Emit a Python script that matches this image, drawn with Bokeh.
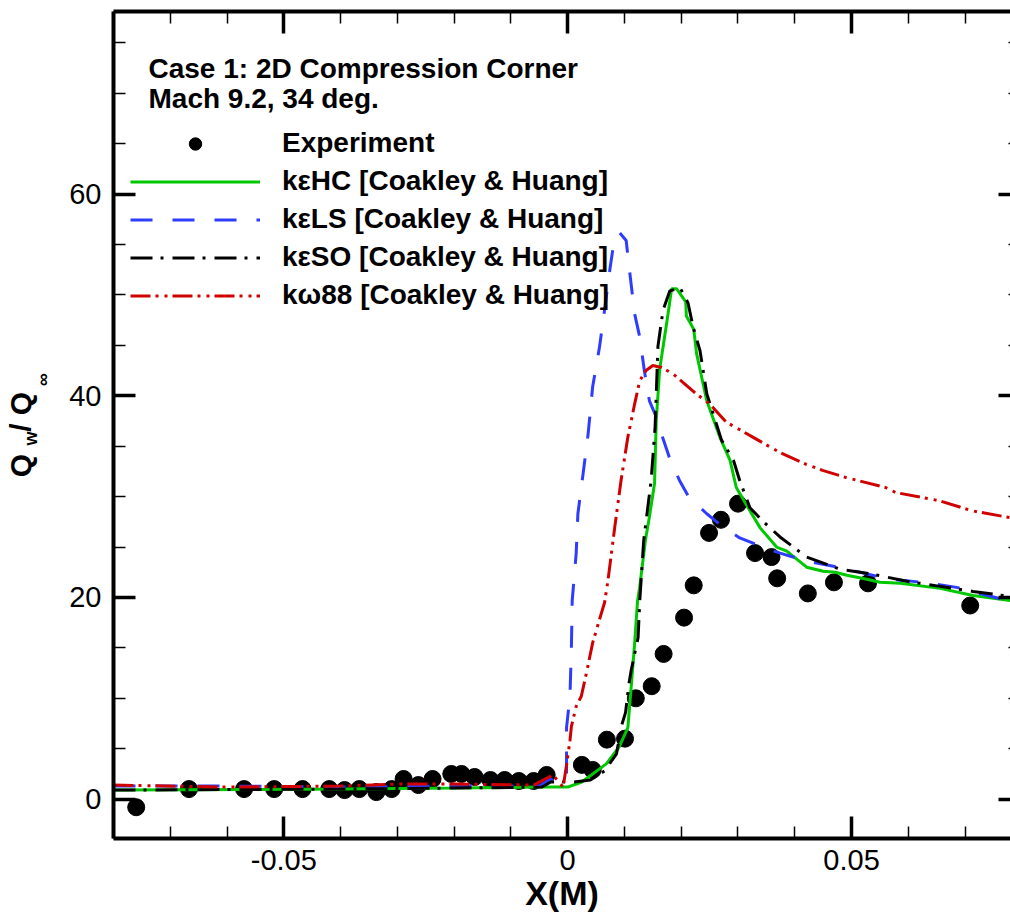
import math
from bokeh.plotting import figure
from bokeh.layouts import row
from bokeh.models import (Range1d, LinearAxis, SingleIntervalTicker, CustomJSTickFormatter,
                          Legend, LegendItem, Label)
from bokeh.core.properties import value
from bokeh.embed import file_html
from bokeh.resources import INLINE

# ---------------- data ----------------
exp_x = [-0.0760, -0.0667, -0.0570, -0.0517, -0.0467, -0.0420, -0.0393, -0.0367, -0.0337, -0.0310,
         -0.0289, -0.0263, -0.0238, -0.0205, -0.0187, -0.0164, -0.0136, -0.0111, -0.0086, -0.0060,
         -0.0037, 0.0025, 0.0044, 0.0069, 0.0101, 0.0120, 0.0148, 0.0169, 0.0205, 0.0222,
         0.0249, 0.0270, 0.0300, 0.0330, 0.0359, 0.0369, 0.0423, 0.0469, 0.0529, 0.0709]
exp_y = [-0.8, 1.0, 1.0, 1.0, 1.0, 1.0, 0.9, 1.0, 0.7, 1.0,
         2.0, 1.4, 2.0, 2.5, 2.5, 2.2, 1.9, 1.9, 1.8, 1.8,
         2.4, 3.4, 2.9, 5.9, 6.0, 10.0, 11.2, 14.4, 18.0, 21.2,
         26.4, 27.7, 29.3, 24.4, 24.0, 21.9, 20.4, 21.5, 21.4, 19.2]

hc_x = [-0.08, -0.04, -0.02, -0.005, 0.0, 0.0025, 0.0068, 0.0091, 0.0106, 0.0112, 0.0118, 0.0123,
        0.0127, 0.0137, 0.0144, 0.0153, 0.0156, 0.0162, 0.0176, 0.0180, 0.0183, 0.0192, 0.0208,
        0.0209, 0.0222, 0.0227, 0.0245, 0.0268, 0.0286, 0.0297, 0.0321, 0.0339, 0.0368, 0.0386,
        0.0421, 0.0450, 0.0471, 0.0492, 0.0527, 0.0550, 0.0586, 0.0656, 0.0714, 0.0780]
hc_y = [0.9, 1.0, 1.1, 1.2, 1.2, 1.7, 3.5, 5.2, 7.1, 11.2, 15.5, 19.6,
        21.1, 25.7, 28.0, 31.3, 37.5, 42.6, 47.8, 49.4, 50.6, 50.6, 49.3,
        47.9, 46.6, 44.2, 39.5, 35.9, 33.6, 30.9, 28.6, 26.9, 25.0, 24.6,
        23.0, 22.6, 22.5, 22.2, 21.8, 21.5, 21.4, 20.9, 20.2, 19.7]

ls_x = [-0.08, -0.06, -0.04, -0.02, -0.005, -0.003, -0.0015, -0.0002, -0.0002, 0.0004, 0.00065,
        0.0008, 0.0015, 0.0018, 0.0027, 0.0036, 0.0044, 0.0056, 0.0065, 0.0074, 0.0080, 0.0091,
        0.0103, 0.0109, 0.0118, 0.0127, 0.0135, 0.0144, 0.0156, 0.0167, 0.0179, 0.0197, 0.0214,
        0.0245, 0.0271, 0.0303, 0.0339, 0.0374, 0.0421, 0.0468, 0.0515, 0.0568, 0.0626, 0.0685, 0.0780]
ls_y = [1.3, 1.3, 1.2, 1.3, 1.3, 2.0, 1.5, 2.5, 7.1, 10.2, 14.8,
        19.7, 24.4, 28.3, 32.2, 36.2, 40.9, 44.8, 48.5, 52.4, 54.7, 56.2,
        55.4, 52.4, 48.1, 45.8, 42.5, 39.5, 37.9, 35.9, 33.9, 31.6, 29.9,
        28.3, 27.1, 25.9, 25.1, 24.4, 23.6, 23.1, 22.5, 21.8, 21.5, 21.0, 19.6]

so_x = [-0.08, -0.04, -0.02, -0.0045, -0.003, 0.001, 0.004, 0.0065, 0.0086, 0.0095, 0.0102, 0.0108,
        0.0112, 0.0124, 0.0127, 0.0134, 0.0147, 0.0154, 0.0159, 0.0168, 0.0180, 0.0198, 0.0212,
        0.0221, 0.0233, 0.0245, 0.0271, 0.0292, 0.0303, 0.0321, 0.0345, 0.0374, 0.0421, 0.0480,
        0.0538, 0.0598, 0.0656, 0.0714, 0.0780]
so_y = [0.9, 1.0, 1.1, 1.2, 1.7, 1.7, 1.9, 2.8, 4.5, 7.3, 8.6, 11.5,
        12.8, 16.0, 19.7, 25.7, 31.6, 36.9, 44.9, 48.5, 50.4, 50.7, 49.2,
        46.8, 44.5, 40.2, 35.6, 33.6, 31.6, 28.9, 27.5, 26.0, 24.0, 22.8,
        22.3, 21.6, 21.1, 20.6, 20.1]

kw_x = [-0.08, -0.06, -0.04, -0.03, -0.02, -0.006, -0.0026, -0.0008, -0.0002, 0.0004, 0.00065,
        0.0015, 0.0024, 0.0033, 0.0044, 0.0056, 0.0065, 0.0071, 0.0083, 0.0094, 0.0106, 0.0118,
        0.0127, 0.0138, 0.0150, 0.0165, 0.0185, 0.0226, 0.0250, 0.0279, 0.0326, 0.0373, 0.0420,
        0.0449, 0.0490, 0.0560, 0.0578, 0.0654, 0.0712, 0.0780]
kw_y = [1.4, 1.2, 1.3, 1.5, 1.5, 1.4, 2.4, 1.2, 3.4, 5.8, 7.2,
        9.2, 10.2, 12.5, 15.5, 17.8, 19.5, 21.7, 27.0, 31.6, 35.9, 39.2,
        41.5, 42.5, 43.0, 42.8, 42.2, 40.2, 39.2, 37.4, 35.9, 34.4, 33.2,
        32.6, 31.9, 30.9, 30.4, 29.6, 28.6, 27.9]

legend_labels = ["Experiment", "k\u03b5HC [Coakley & Huang]", "k\u03b5LS [Coakley & Huang]",
                 "k\u03b5SO [Coakley & Huang]", "k\u03c988 [Coakley & Huang]"]
title_lines = ["Case 1: 2D Compression Corner", "Mach 9.2, 34 deg."]
x_title = "X(M)"
# y title "Q_w / Q_inf": main-size parts and subscript parts
y_title_main = ["Q", "/", "Q"]
y_title_sub = ["w", "\u221e"]

FONT = "Liberation Sans"

# ---------------- y-axis title strip (left of the plot) ----------------
# frame of this strip is aligned with the main frame (page y 11..838), so y = 919 - page_y
lab = figure(width=60, height=919, output_backend="svg", toolbar_location=None,
             x_range=Range1d(0, 60), y_range=Range1d(81, 908),
             x_axis_location=None, y_axis_location=None,
             min_border_left=0, min_border_right=0, min_border_top=11, min_border_bottom=81)
lab.grid.visible = False
lab.outline_line_color = None
lab.border_fill_color = "white"
lab.background_fill_color = "white"
lab.text(x=[20, 20, 20], y=[454, 492, 516], text=y_title_main, angle=math.pi / 2,
         text_font=value(FONT), text_font_style="bold", text_font_size="30px",
         text_align="center", text_baseline="middle", text_color="black")
lab.text(x=[30, 42], y=[481, 540], text=y_title_sub, angle=math.pi / 2,
         text_font=value(FONT), text_font_style="bold", text_font_size="18px",
         text_align="center", text_baseline="middle", text_color="black")

# ---------------- main plot ----------------
p = figure(width=950, height=919, output_backend="svg", toolbar_location=None,
           x_range=Range1d(-0.08, 0.078), y_range=Range1d(-3.9, 78.1),
           min_border_left=53, min_border_right=0, min_border_top=11, min_border_bottom=81)
p.grid.visible = False
p.outline_line_color = None
p.background_fill_color = "white"
p.border_fill_color = "white"

xt = SingleIntervalTicker(interval=0.05, num_minor_ticks=5)
yt = SingleIntervalTicker(interval=20, num_minor_ticks=4)
xfmt = CustomJSTickFormatter(code="return Math.abs(tick) < 1e-9 ? '0' : tick.toFixed(2);")
blank = CustomJSTickFormatter(code="return '';")

def style_axis(ax, tin, min_in, show_labels, line=True):
    ax.axis_line_width = 4
    ax.axis_line_color = "black" if line else None
    ax.major_tick_in = tin
    ax.major_tick_out = 0
    ax.major_tick_line_width = 3.5
    ax.minor_tick_in = min_in
    ax.minor_tick_out = 0
    ax.minor_tick_line_width = 1.5
    if show_labels:
        ax.major_label_text_font = FONT
        ax.major_label_text_font_size = "29px"
        ax.major_label_text_color = "black"
    else:
        ax.formatter = blank
        ax.major_label_text_font_size = "0px"
        ax.major_label_standoff = 0

xa = p.xaxis[0]
xa.ticker = xt
xa.formatter = xfmt
style_axis(xa, 22, 12, True)
xa.major_label_standoff = 11
xa.axis_label = x_title
xa.axis_label_text_font = FONT
xa.axis_label_text_font_style = "bold"
xa.axis_label_text_font_size = "34px"
xa.axis_label_text_color = "black"
xa.axis_label_standoff = 1

ya = p.yaxis[0]
ya.ticker = yt
style_axis(ya, 22, 12, True)
ya.major_label_standoff = 12

top = LinearAxis(ticker=SingleIntervalTicker(interval=0.05, num_minor_ticks=5))
style_axis(top, 22, 12, False)
p.add_layout(top, "above")
right = LinearAxis(ticker=SingleIntervalTicker(interval=20, num_minor_ticks=4))
style_axis(right, 12, 2, False, line=False)
p.add_layout(right, "right")

# ---------------- data renderers ----------------
r_exp = p.scatter(exp_x, exp_y, size=17, color="black", marker="circle")
r_hc = p.line(hc_x, hc_y, line_color="#00c800", line_width=3)
r_ls = p.line(ls_x, ls_y, line_color="#2e3cff", line_width=3, line_dash="22 20")
r_so = p.line(so_x, so_y, line_color="black", line_width=3, line_dash="22 8 3 9")
r_kw = p.line(kw_x, kw_y, line_color="#d00000", line_width=3, line_dash="20 5 3 6 3 5")

legend = Legend(items=[LegendItem(label=legend_labels[0], renderers=[r_exp]),
                       LegendItem(label=legend_labels[1], renderers=[r_hc]),
                       LegendItem(label=legend_labels[2], renderers=[r_ls]),
                       LegendItem(label=legend_labels[3], renderers=[r_so]),
                       LegendItem(label=legend_labels[4], renderers=[r_kw])],
                location=(17, 527), glyph_width=130, glyph_height=31, label_height=31,
                label_standoff=22, spacing=6, padding=0, margin=0,
                border_line_color=None, background_fill_alpha=0,
                label_text_font=FONT, label_text_font_style="bold", label_text_font_size="28px",
                label_text_color="black")
p.add_layout(legend)

for i, t in enumerate(title_lines):
    p.add_layout(Label(x=35, y=770 - 30 * i, x_units="screen", y_units="screen", text=t,
                       text_font=FONT, text_font_style="bold", text_font_size="28px",
                       text_baseline="alphabetic", text_align="left", text_color="black"))

layout = row(lab, p, spacing=0)
open("out.html", "w").write(file_html(layout, INLINE))
